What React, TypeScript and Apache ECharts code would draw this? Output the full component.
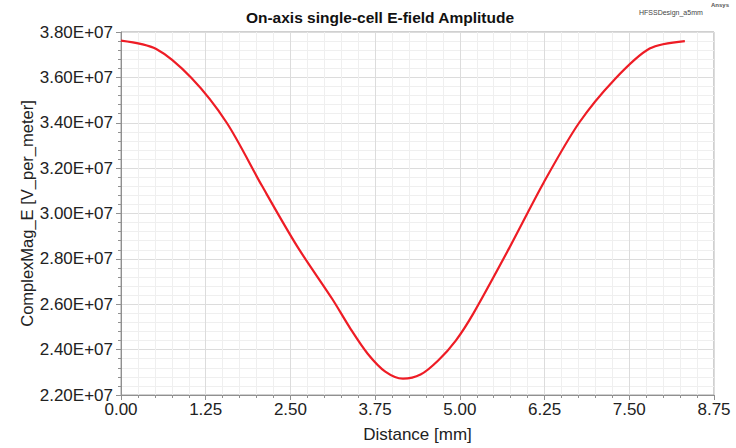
import React, { useEffect, useRef } from "react";
import * as echarts from "echarts";

const distanceMm = [0, 0.52, 1.04, 1.56, 2.08, 2.6, 3.12, 3.38, 3.64, 3.9, 4.16, 4.42, 4.68, 4.94, 5.2, 5.72, 6.24, 6.76, 7.28, 7.8, 8.32];
const eFieldMag = [3.762e7, 3.725e7, 3.597e7, 3.4e7, 3.122e7, 2.855e7, 2.622e7, 2.495e7, 2.382e7, 2.303e7, 2.272e7, 2.29e7, 2.352e7, 2.44e7, 2.56e7, 2.843e7, 3.138e7, 3.4e7, 3.59e7, 3.727e7, 3.76e7];
const xTicks = { min: 0, max: 8.75, interval: 1.25 };
const yTicks = { min: 2.2e7, max: 3.8e7, interval: 0.2e7 };

const FONT = "'Liberation Sans', Arial, sans-serif";

export default function App() {
  const ref = useRef<HTMLDivElement>(null);
  useEffect(() => {
    if (!ref.current) return;
    const chart = echarts.init(ref.current, null, { renderer: "svg" });
    chart.setOption({
      animation: false,
      backgroundColor: "#ffffff",
      title: {
        text: "On-axis single-cell E-field Amplitude",
        left: 375,
        textAlign: "center",
        top: 4,
        textStyle: { fontFamily: FONT, fontSize: 15.5, fontWeight: "bold", color: "#111" },
      },
      graphic: [
        { type: "text", left: 639, top: 9, style: { text: "HFSSDesign_a5mm", font: `7px ${FONT}`, fill: "#444" } },
        { type: "text", left: 711, top: 2, style: { text: "Ansys", font: `bold 6px ${FONT}`, fill: "#555" } },
      ],
      grid: {
        left: 121,
        right: 22,
        top: 32,
        bottom: 53,
        show: true,
        borderColor: "#a0a0a0",
        borderWidth: 1,
      },
      xAxis: {
        type: "value",
        min: xTicks.min,
        max: xTicks.max,
        interval: xTicks.interval,
        name: "Distance [mm]",
        nameLocation: "middle",
        nameGap: 31,
        nameTextStyle: { fontFamily: FONT, fontSize: 17, color: "#222" },
        axisLine: { show: true, lineStyle: { color: "#909090" } },
        axisTick: { show: true, length: 5, lineStyle: { color: "#909090" } },
        minorTick: { show: true, splitNumber: 5, length: 3, lineStyle: { color: "#909090" } },
        axisLabel: {
          fontFamily: FONT,
          fontSize: 17,
          color: "#222",
          margin: 6,
          formatter: (v: number) => v.toFixed(2),
        },
        splitLine: { show: true, lineStyle: { color: "#dcdcdc" } },
        minorSplitLine: { show: true, lineStyle: { color: "#efefef" } },
      },
      yAxis: {
        type: "value",
        min: yTicks.min,
        max: yTicks.max,
        interval: yTicks.interval,
        name: "ComplexMag_E [V_per_meter]",
        nameLocation: "middle",
        nameGap: 86,
        nameMoveOverlap: false,
        nameTextStyle: { fontFamily: FONT, fontSize: 16.5, color: "#222" },
        axisLine: { show: true, lineStyle: { color: "#909090" } },
        axisTick: { show: true, length: 5, lineStyle: { color: "#909090" } },
        minorTick: { show: true, splitNumber: 5, length: 3, lineStyle: { color: "#909090" } },
        axisLabel: {
          fontFamily: FONT,
          fontSize: 17,
          color: "#222",
          margin: 8,
          formatter: (v: number) => (v / 1e7).toFixed(2) + "E+07",
        },
        splitLine: { show: true, lineStyle: { color: "#dcdcdc" } },
        minorSplitLine: { show: true, lineStyle: { color: "#efefef" } },
      },
      series: [
        {
          type: "line",
          data: distanceMm.map((d, i) => [d, eFieldMag[i]]),
          showSymbol: false,
          smooth: 0.3,
          lineStyle: { color: "#ee1c25", width: 2.2 },
        },
      ],
    });
    return () => chart.dispose();
  }, []);
  return <div ref={ref} style={{ width: 736, height: 448, position: "absolute", left: 0, top: 0 }} />;
}
